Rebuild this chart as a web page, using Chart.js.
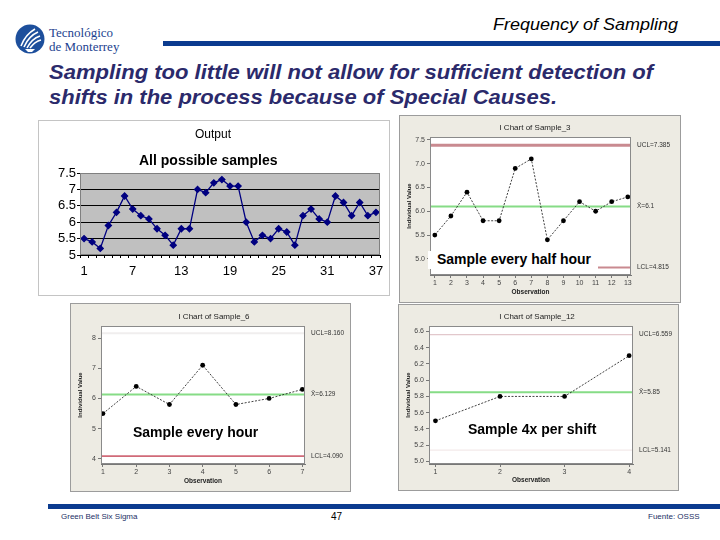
<!DOCTYPE html>
<html>
<head>
<meta charset="utf-8">
<script src="https://cdn.jsdelivr.net/npm/chart.js@4.4.1/dist/chart.umd.min.js"></script>
<style>
  body { margin: 0; background: #fff; font-family: "Liberation Sans", Arial, sans-serif; }
  #slide { position: relative; width: 720px; height: 540px; overflow: hidden; background: #fff; }
  .abs { position: absolute; }
  .panel { position: absolute; box-sizing: border-box; }
  .mt { background: #edebe3; border: 1px solid #9c9c9c; }
  .cap { position: absolute; font-weight: bold; font-size: 14px; line-height: 16px; color: #000; white-space: nowrap; }
  .ctitle { position: absolute; font-size: 8px; color: #222; white-space: nowrap; transform: translateX(-50%); }
  .fit { white-space: nowrap; transform-origin: 0 0; display: inline-block; }
  canvas { position: absolute; }
</style>
</head>
<body>
<div id="slide">
  <!-- header -->
  <svg class="abs" style="left:15px;top:24px" width="30" height="30" viewBox="0 0 30 30">
    <circle cx="15" cy="15" r="14.5" fill="#1d4f9c"/>
    <path d="M6 22 C9 14 13 9 20 5 M9 23 C12 16 16 11 23 8 M12 24 C15 18 19 14 25 12 M15 24 C18 20 21 17 26 16" stroke="#fff" stroke-width="1.6" fill="none"/>
    <path d="M10 25 L20 25 L17 28 L13 28 Z" fill="#fff"/>
  </svg>
  <div class="abs" style="left:49px;top:26px;font-family:'Liberation Serif','DejaVu Serif',serif;font-size:13px;line-height:14px;color:#1d3f8f">Tecnológico<br>de Monterrey</div>
  <div class="abs" style="left:163px;top:41px;width:557px;height:5px;background:#0b3b8f"></div>
  <div class="abs" style="left:493px;top:15px;font-style:italic;font-size:16px;line-height:20px;color:#000"><span class="fit" data-w="185">Frequency of Sampling</span></div>
  <div class="abs" style="left:49px;top:60px;font-style:italic;font-weight:bold;font-size:20px;line-height:25px;color:#2b2a6b">
    <span class="fit" data-w="604">Sampling too little will not allow for sufficient detection of</span><br>
    <span class="fit" data-w="508">shifts in the process because of Special Causes.</span>
  </div>

  <!-- panels -->
  <div class="panel" style="left:38px;top:120px;width:352px;height:176px;background:#fff;border:1px solid #c4c4c4"></div>
  <div class="panel mt" style="left:399px;top:115px;width:282px;height:188px"></div>
  <div class="panel mt" style="left:70px;top:303px;width:281px;height:189px"></div>
  <div class="panel mt" style="left:398px;top:304px;width:281px;height:187px"></div>

  <canvas id="cAll" style="left:38px;top:120px" width="352" height="176"></canvas>
  <canvas id="c3" style="left:399px;top:115px" width="282" height="188"></canvas>
  <canvas id="c6" style="left:70px;top:303px" width="281" height="189"></canvas>
  <canvas id="c12" style="left:398px;top:304px" width="281" height="187"></canvas>

  <div class="abs" style="left:213px;top:127px;font-size:12px;line-height:14px;transform:translateX(-50%)">Output</div>
  <div class="ctitle" style="left:535px;top:123px">I Chart of Sample_3</div>
  <div class="ctitle" style="left:214px;top:312px">I Chart of Sample_6</div>
  <div class="ctitle" style="left:537px;top:312px">I Chart of Sample_12</div>

  <div class="cap" style="left:139px;top:152px">All possible samples</div>
  <div class="cap" style="left:428px;top:251px;width:170px;height:18px;background:#fff;padding-left:9px;box-sizing:border-box">Sample every half hour</div>
  <div class="cap" style="left:133px;top:424px">Sample every hour</div>
  <div class="cap" style="left:468px;top:421px">Sample 4x per shift</div>

  <!-- footer -->
  <div class="abs" style="left:48px;top:504px;width:672px;height:5px;background:#0b3b8f"></div>
  <div class="abs" style="left:61px;top:512px;font-size:8px;line-height:10px;color:#1d2f66">Green Belt Six Sigma</div>
  <div class="abs" style="left:331px;top:511px;font-size:10px;line-height:12px;color:#000">47</div>
  <div class="abs" style="left:648px;top:512px;font-size:8px;line-height:10px;color:#1d2f66">Fuente: OSSS</div>
</div>

<script>
// all 37 consecutive measurements
const obsLabels = Array.from({ length: 37 }, (_, i) => String(i + 1));
const allSamples = [5.5, 5.4, 5.2, 5.9, 6.3, 6.8, 6.4, 6.2, 6.1, 5.8, 5.6, 5.3, 5.8, 5.8, 7.0, 6.9, 7.2, 7.3, 7.1, 7.1,
  6.0, 5.4, 5.6, 5.5, 5.8, 5.7, 5.3, 6.2, 6.4, 6.1, 6.0, 6.8, 6.6, 6.2, 6.6, 6.2, 6.3];

// subsamples (every 3rd, 6th, 12th)
const sample3 = [5.5, 5.9, 6.4, 5.8, 5.8, 6.9, 7.1, 5.4, 5.8, 6.2, 6.0, 6.2, 6.3];
const sample6 = [5.5, 6.4, 5.8, 7.1, 5.8, 6.0, 6.3];
const sample12 = [5.5, 5.8, 5.8, 6.3];

// control limits [UCL, center, LCL]
const limits3 = [7.385, 6.1, 4.815];
const limits6 = [8.160, 6.129, 4.090];
const limits12 = [6.559, 5.85, 5.141];
const limitNames3 = ['UCL=7.385', 'X\u0304=6.1', 'LCL=4.815'];
const limitNames6 = ['UCL=8.160', 'X\u0304=6.129', 'LCL=4.090'];
const limitNames12 = ['UCL=6.559', 'X\u0304=5.85', 'LCL=5.141'];

// plot background + frame
const areaPlugin = {
  id: 'areaBg',
  beforeDraw(chart, args, opts) {
    const { ctx, chartArea: a } = chart;
    ctx.save();
    ctx.fillStyle = opts.fill;
    ctx.fillRect(a.left, a.top, a.width, a.height);
    ctx.restore();
  },
  afterDraw(chart, args, opts) {
    const { ctx, chartArea: a } = chart;
    ctx.save();
    ctx.strokeStyle = opts.stroke;
    ctx.lineWidth = 1;
    ctx.strokeRect(a.left + 0.5, a.top + 0.5, a.width - 1, a.height - 1);
    // text next to the control lines
    if (opts.labels) {
      ctx.font = '6.5px "Liberation Sans", sans-serif';
      ctx.fillStyle = '#333';
      ctx.textBaseline = 'middle';
      opts.labels.forEach((t, i) => {
        const y = chart.scales.y.getPixelForValue(opts.values[i]);
        ctx.fillText(t, a.right + 6, y);
      });
    }
    ctx.restore();
  }
};

new Chart(document.getElementById('cAll'), {
  type: 'line',
  data: {
    labels: obsLabels,
    datasets: [{
      data: allSamples,
      borderColor: '#000080',
      borderWidth: 1.3,
      pointStyle: 'rectRot',
      pointRadius: 3,
      pointBackgroundColor: '#000080',
      pointBorderColor: '#000080',
      tension: 0
    }]
  },
  options: {
    responsive: false,
    animation: false,
    layout: { padding: { top: 53, right: 10, left: 0, bottom: 0 } },
    plugins: { legend: { display: false }, tooltip: { enabled: false }, areaBg: { fill: '#c0c0c0', stroke: '#808080' } },
    scales: {
      x: {
        offset: true,
        grid: { drawOnChartArea: false, offset: true, tickLength: 3, color: '#000' },
        border: { color: '#000' },
        ticks: {
          autoSkip: false, maxRotation: 0, padding: 6, color: '#000',
          font: { size: 13, family: 'Liberation Sans' },
          callback: (v, i) => (i % 6 === 0 ? obsLabels[i] : '')
        },
        afterFit: s => { s.height = 41; }
      },
      y: {
        min: 5, max: 7.5,
        grid: { color: '#000', tickLength: 3 },
        border: { color: '#000' },
        ticks: {
          stepSize: 0.5, autoSkip: false, padding: 1, color: '#000',
          font: { size: 13, family: 'Liberation Sans' },
          callback: v => String(v)
        },
        afterFit: s => { s.width = 42; }
      }
    }
  },
  plugins: [areaPlugin]
});

function iChart(id, values, limits, names, xr, yr, step, digits, pad) {
  const pts = values.map((v, i) => ({ x: i + 1, y: v }));
  const line = (v, color, w) => ({
    data: [{ x: xr[0], y: v }, { x: xr[1], y: v }],
    borderColor: color, borderWidth: w, pointRadius: 0
  });
  return new Chart(document.getElementById(id), {
    type: 'line',
    data: {
      datasets: [
        {
          data: pts, borderColor: '#111', borderWidth: 0.8, borderDash: [2, 1.5],
          pointRadius: 2.4, pointBackgroundColor: '#000', pointBorderWidth: 0, tension: 0
        },
        line(limits[0], pad.ucl, pad.uclW),
        line(limits[1], '#86dc86', 2),
        line(limits[2], pad.lcl, pad.lclW)
      ]
    },
    options: {
      responsive: false,
      animation: false,
      layout: { padding: { top: pad.top, right: pad.right, left: 0, bottom: 0 } },
      plugins: {
        legend: { display: false }, tooltip: { enabled: false },
        areaBg: { fill: '#fff', stroke: '#8a8a8a', labels: names, values: limits }
      },
      scales: {
        x: {
          type: 'linear', min: xr[0], max: xr[1],
          grid: { drawOnChartArea: false, tickLength: 3, color: '#777' },
          border: { color: '#777' },
          ticks: { stepSize: 1, includeBounds: false, padding: 1, color: '#444', font: { size: 7, family: 'Liberation Sans' } },
          title: { display: true, text: 'Observation', color: '#222', font: { size: 6.5, weight: 'bold' }, padding: { top: 0, bottom: 7 } },
          afterFit: s => { s.height = pad.xh; }
        },
        y: {
          min: yr[0], max: yr[1],
          grid: { drawOnChartArea: false, tickLength: 3, color: '#777' },
          border: { color: '#777' },
          ticks: {
            stepSize: step, includeBounds: false, padding: 2, color: '#444',
            font: { size: 7, family: 'Liberation Sans' },
            callback: v => v.toFixed(digits)
          },
          title: { display: true, text: 'Individual Value', color: '#222', font: { size: 6, weight: 'bold' }, padding: { top: 7, bottom: 0 } },
          afterFit: s => { s.width = 31; }
        }
      }
    },
    plugins: [areaPlugin]
  });
}

iChart('c3', sample3, limits3, limitNames3, [0.7, 13.2], [4.66, 7.56], 0.5, 1,
  { top: 22, right: 50, xh: 28, ucl: '#c98a90', uclW: 3, lcl: '#c98a90', lclW: 2 });
iChart('c6', sample6, limits6, limitNames6, [0.94, 7.08], [3.83, 8.4], 1, 0,
  { top: 23, right: 46, xh: 28, ucl: '#f0eeee', uclW: 2, lcl: '#d06a78', lclW: 1.6 });
iChart('c12', sample12, limits12, limitNames12, [0.9, 4.06], [4.97, 6.665], 0.2, 1,
  { top: 22, right: 46, xh: 27, ucl: '#e2c8cc', uclW: 1.2, lcl: '#f3eaea', lclW: 1.2 });

// squeeze header lines to the slide's widths
document.querySelectorAll('.fit').forEach(el => {
  const w = el.getBoundingClientRect().width;
  el.style.transform = 'scaleX(' + (Number(el.dataset.w) / w) + ')';
});
</script>
</body>
</html>
